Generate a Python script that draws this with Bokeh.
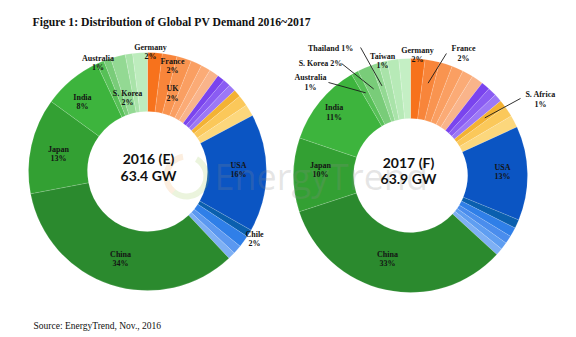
import math
from bokeh.plotting import figure
from bokeh.models import Range1d, ColumnDataSource
from bokeh.core.properties import value
from bokeh.embed import file_html
from bokeh.resources import INLINE

# ---------------- data ----------------
names_2016 = ["Germany", "France", "UK", "Europe 4", "Europe 5", "Europe 6",
              "Other A1", "Other A2", "Other A3", "Other B1", "Other B2", "Other B3",
              "USA", "Americas 1", "Chile", "Americas 2", "Americas 3",
              "China", "Japan", "India", "Australia", "Asia 1", "S. Korea", "Asia 2", "Asia 3"]
share_2016 = [2.0, 2.0, 2.0, 1.5, 1.3, 1.3,
              1.0, 1.0, 1.0, 1.0, 1.5, 1.6,
              16.0, 1.0, 1.6, 1.2, 1.0,
              34.0, 13.0, 8.0, 1.0, 1.0, 2.0, 1.0, 2.0]
total_2016 = "63.4 GW"
title_2016 = "2016 (E)"

names_2017 = ["Germany", "France", "UK", "Europe 4", "Europe 5", "Europe 6",
              "Other A1", "Other A2", "Other A3", "S. Africa", "Other B2", "Other B3",
              "USA", "Americas 1", "Americas 2", "Americas 3", "Americas 4", "Americas 5",
              "China", "Japan", "India", "Australia", "S. Korea", "Thailand", "Taiwan", "Asia 1", "Asia 2"]
share_2017 = [2.0, 2.0, 1.8, 1.6, 1.5, 1.6,
              1.2, 1.2, 1.1, 1.0, 1.5, 1.7,
              13.0, 1.2, 1.3, 1.1, 1.0, 1.0,
              33.2, 10.2, 11.4, 1.0, 2.0, 1.0, 1.2, 1.6, 1.6]
total_2017 = "63.9 GW"
title_2017 = "2017 (F)"

chart_title = "Figure 1: Distribution of Global PV Demand 2016~2017"
source_note = "Source: EnergyTrend, Nov., 2016"

# ---------------- styles ----------------
colors_2016 = ["#f7721c", "#f8853a", "#f99450", "#fa9f62", "#fbab76", "#f9b48a",
               "#7a44ee", "#8a5cf3", "#9c78f6", "#f3b234", "#fbc85a", "#fcd77c",
               "#0b55c3", "#0a5fae", "#2f7fe8", "#5b98f0", "#7eb0f4",
               "#2b8a2e", "#33a033", "#3db43d", "#57c057", "#79cc79", "#93d993", "#a9e3a9", "#bdecbd"]
colors_2017 = ["#f7721c", "#f8853a", "#f99450", "#fa9f62", "#fbab76", "#f9b48a",
               "#7a44ee", "#8a5cf3", "#9c78f6", "#f3b234", "#fbc85a", "#fcd77c",
               "#0b55c3", "#0a5fae", "#2f7fe8", "#4a8ded", "#5f9ef1", "#7eb0f4",
               "#2b8a2e", "#33a033", "#3db43d", "#57c057", "#79cc79", "#93d993", "#a9e3a9", "#b7eab7", "#c4efc4"]

W, H = 576, 337
# donut layout (pixel coords, y downward)
LEFT = dict(cx=147, cy=171, R=119, r=60)
RIGHT = dict(cx=410, cy=175, R=117, r=57)

# label placement: name -> (theta_deg clockwise from 12 o'clock, radius px, two_lines)
labels_2016 = {
    "Germany": (1.4, 119.5, True), "France": (13.3, 108.4, True), "UK": (17.8, 81.9, True),
    "USA": (89.1, 91, True), "Chile": (122.2, 126.5, True), "China": (197.1, 91.6, True),
    "Japan": (281.1, 90.7, True), "India": (316.9, 95.2, True), "Australia": (335.5, 119.3, True),
    "S. Korea": (344.8, 76.2, True),
}
labels_2017 = {
    "Germany": (3.3, 120.7, True), "France": (23.5, 133, True), "S. Africa": (59.7, 150.6, True),
    "USA": (88.0, 92, True), "China": (195.4, 86.6, True), "Japan": (273.5, 90.2, True),
    "India": (309.5, 99, True), "Australia": (312.9, 136.6, True), "S. Korea": (321.2, 143.7, False),
    "Thailand": (327.8, 150, False), "Taiwan": (346.3, 117.9, True),
}
# leader lines: name -> (outer end theta, outer end radius, inner radius at slice middle)
leaders_2017 = {
    "France": (16.4, 127.2, 94), "S. Africa": (55.0, 134.3, 94), "Australia": (318.6, 124, 94),
    "S. Korea": (328.4, 131.5, 94), "Thailand": (338.7, 137.4, 94),
}

LABEL_FONT = value("Liberation Serif")


def polar(c, theta_deg, rad):
    t = math.radians(theta_deg)
    x = c["cx"] + rad * math.sin(t)
    y = c["cy"] - rad * math.cos(t)
    return x, H - y


p = figure(width=W, height=H, x_range=Range1d(0, W), y_range=Range1d(0, H),
           output_backend="svg", toolbar_location=None, min_border=0,
           x_axis_type=None, y_axis_type=None)
p.grid.visible = False
p.outline_line_color = None
p.background_fill_color = "white"
p.border_fill_color = "white"


def donut(c, names, shares, colors, leaders):
    tot = sum(shares)
    starts, ends, mids = [], [], {}
    acc = 0.0
    for n, s in zip(names, shares):
        a0 = acc / tot * 360.0
        acc += s
        a1 = acc / tot * 360.0
        # convert clockwise-from-top to bokeh counter-clockwise-from-x
        starts.append(math.radians(90 - a1))
        ends.append(math.radians(90 - a0))
        mids[n] = (a0 + a1) / 2
    src = ColumnDataSource(dict(start=starts, end=ends, color=colors))
    p.annular_wedge(x=c["cx"], y=H - c["cy"], inner_radius=c["r"], outer_radius=c["R"],
                    start_angle="start", end_angle="end", fill_color="color",
                    line_color="white", line_width=0.4, line_alpha=0.35, source=src)
    xs0, ys0, xs1, ys1 = [], [], [], []
    for n, (th, rr, rin) in leaders.items():
        x0, y0 = polar(c, th, rr)
        x1, y1 = polar(c, mids[n], rin)
        xs0.append(x0); ys0.append(y0); xs1.append(x1); ys1.append(y1)
    if xs0:
        p.segment(x0=xs0, y0=ys0, x1=xs1, y1=ys1, line_color="#1a1a1a", line_width=0.9)


def add_labels(c, names, shares, labels):
    tot = sum(shares)
    pct = {n: "%d%%" % round(s / tot * 100) for n, s in zip(names, shares)}
    tx, ty, tt = [], [], []
    for n, (th, rr, two) in labels.items():
        x, y = polar(c, th, rr)
        if two:
            tx += [x, x]; ty += [y + 4.6, y - 4.6]; tt += [n, pct[n]]
        else:
            tx.append(x); ty.append(y); tt.append(n + " " + pct[n])
    p.text(x=tx, y=ty, text=tt, text_font=LABEL_FONT, text_font_style="bold",
           text_font_size="8px", text_align="center", text_baseline="middle",
           text_color="#141414")


donut(LEFT, names_2016, share_2016, colors_2016, {})
donut(RIGHT, names_2017, share_2017, colors_2017, leaders_2017)

# faint watermark (logo ring + word)
p.annular_wedge(x=186, y=H - 176, inner_radius=17, outer_radius=23,
                start_angle=math.radians(100), end_angle=math.radians(230),
                fill_color="#f0a050", fill_alpha=0.18, line_color=None)
p.annular_wedge(x=186, y=H - 176, inner_radius=17, outer_radius=23,
                start_angle=math.radians(230), end_angle=math.radians(420),
                fill_color="#90c040", fill_alpha=0.18, line_color=None)
p.text(x=[214], y=[H - 176], text=["EnergyTrend"], text_font=value("Open Sans"),
       text_font_size="36px", text_color="#8a8a8a", text_alpha=0.22,
       text_align="left", text_baseline="middle")

add_labels(LEFT, names_2016, share_2016, labels_2016)
add_labels(RIGHT, names_2017, share_2017, labels_2017)

# centre texts
p.text(x=[148, 148], y=[H - 158, H - 175], text=[title_2016, total_2016],
       text_font=value("Lato"), text_font_style="bold", text_font_size="14px",
       text_align="center", text_baseline="middle", text_color="#111111")
p.text(x=[408, 408], y=[H - 162, H - 178], text=[title_2017, total_2017],
       text_font=value("Lato"), text_font_style="bold", text_font_size="14px",
       text_align="center", text_baseline="middle", text_color="#111111")

# title and source
p.text(x=[32], y=[H - 22], text=[chart_title], text_font=value("Liberation Serif"),
       text_font_style="bold", text_font_size="11.7px", text_align="left",
       text_baseline="middle", text_color="#111111")
p.text(x=[33], y=[H - 325], text=[source_note], text_font=value("Liberation Serif"),
       text_font_size="9.5px", text_align="left", text_baseline="middle",
       text_color="#111111")

open("out.html", "w").write(file_html(p, INLINE))
